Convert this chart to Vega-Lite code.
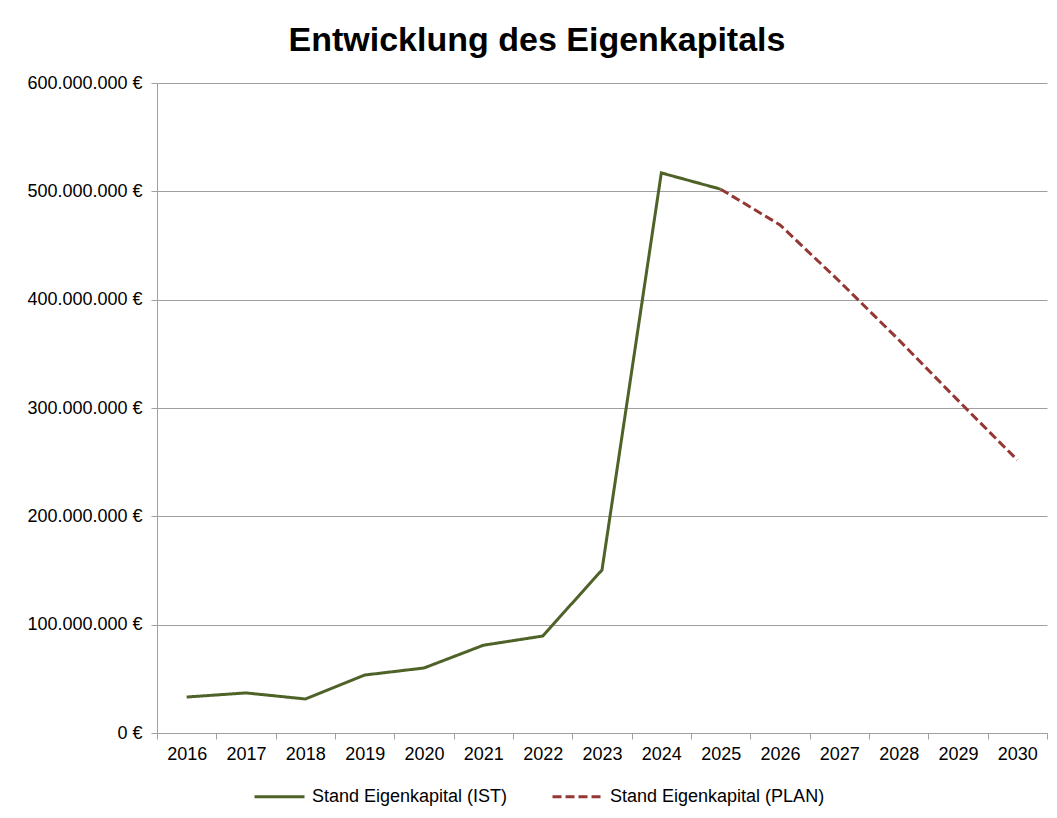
{
  "$schema": "https://vega.github.io/schema/vega-lite/v6.json",
  "autosize": {"type": "none"},
  "padding": {"left": 157, "top": 83, "right": 10, "bottom": 85},
  "width": 890,
  "height": 650,
  "background": "white",
  "title": {
    "text": "Entwicklung des Eigenkapitals",
    "font": "Liberation Sans",
    "fontSize": 34,
    "fontWeight": "bold",
    "color": "#000000",
    "anchor": "middle",
    "dx": -65,
    "offset": 16
  },
  "data": {
    "values": [
      {"Jahr": "2016", "Wert": 33200000, "Serie": "Stand Eigenkapital (IST)"},
      {"Jahr": "2017", "Wert": 37000000, "Serie": "Stand Eigenkapital (IST)"},
      {"Jahr": "2018", "Wert": 31400000, "Serie": "Stand Eigenkapital (IST)"},
      {"Jahr": "2019", "Wert": 53500000, "Serie": "Stand Eigenkapital (IST)"},
      {"Jahr": "2020", "Wert": 60000000, "Serie": "Stand Eigenkapital (IST)"},
      {"Jahr": "2021", "Wert": 81000000, "Serie": "Stand Eigenkapital (IST)"},
      {"Jahr": "2022", "Wert": 89500000, "Serie": "Stand Eigenkapital (IST)"},
      {"Jahr": "2023", "Wert": 150500000, "Serie": "Stand Eigenkapital (IST)"},
      {"Jahr": "2024", "Wert": 517000000, "Serie": "Stand Eigenkapital (IST)"},
      {"Jahr": "2025", "Wert": 502000000, "Serie": "Stand Eigenkapital (IST)"},
      {"Jahr": "2025", "Wert": 502000000, "Serie": "Stand Eigenkapital (PLAN)"},
      {"Jahr": "2026", "Wert": 469000000, "Serie": "Stand Eigenkapital (PLAN)"},
      {"Jahr": "2027", "Wert": 417000000, "Serie": "Stand Eigenkapital (PLAN)"},
      {"Jahr": "2028", "Wert": 363000000, "Serie": "Stand Eigenkapital (PLAN)"},
      {"Jahr": "2029", "Wert": 307000000, "Serie": "Stand Eigenkapital (PLAN)"},
      {"Jahr": "2030", "Wert": 252000000, "Serie": "Stand Eigenkapital (PLAN)"}
    ]
  },
  "mark": {"type": "line", "strokeWidth": 3},
  "encoding": {
    "x": {
      "field": "Jahr",
      "type": "ordinal",
      "scale": {"type": "band", "paddingInner": 0, "paddingOuter": 0},
      "axis": {
        "title": null,
        "labelAngle": 0,
        "labelFont": "Liberation Sans",
        "labelFontSize": 18,
        "labelColor": "#000000",
        "labelPadding": 6,
        "tickBand": "extent",
        "tickSize": 6,
        "tickColor": "#A0A0A0",
        "domainColor": "#A0A0A0",
        "grid": false
      }
    },
    "y": {
      "field": "Wert",
      "type": "quantitative",
      "scale": {"domain": [0, 600000000], "nice": false},
      "axis": {
        "title": null,
        "values": [0, 100000000, 200000000, 300000000, 400000000, 500000000, 600000000],
        "labelExpr": "replace(format(datum.value, ',d'), /,/g, '.') + ' €'",
        "labelFont": "Liberation Sans",
        "labelFontSize": 18,
        "labelColor": "#000000",
        "labelPadding": 9,
        "tickSize": 6,
        "tickColor": "#A0A0A0",
        "domainColor": "#A0A0A0",
        "grid": true,
        "gridColor": "#A0A0A0",
        "gridWidth": 1
      }
    },
    "color": {
      "field": "Serie",
      "type": "nominal",
      "scale": {"domain": ["Stand Eigenkapital (IST)", "Stand Eigenkapital (PLAN)"], "range": ["#4F6228", "#953735"]},
      "legend": {
        "title": null,
        "orient": "none",
        "legendX": 96,
        "legendY": 687,
        "direction": "horizontal",
        "symbolType": "stroke",
        "symbolSize": 2500,
        "symbolStrokeWidth": 3,
        "labelFont": "Liberation Sans",
        "labelFontSize": 18,
        "labelColor": "#000000",
        "labelOffset": 6,
        "labelLimit": 400,
        "columnPadding": 38
      }
    },
    "strokeDash": {
      "field": "Serie",
      "type": "nominal",
      "scale": {"domain": ["Stand Eigenkapital (IST)", "Stand Eigenkapital (PLAN)"], "range": [[1, 0], [9, 4]]},
      "legend": null
    }
  },
  "config": {
    "view": {"stroke": null}
  }
}
